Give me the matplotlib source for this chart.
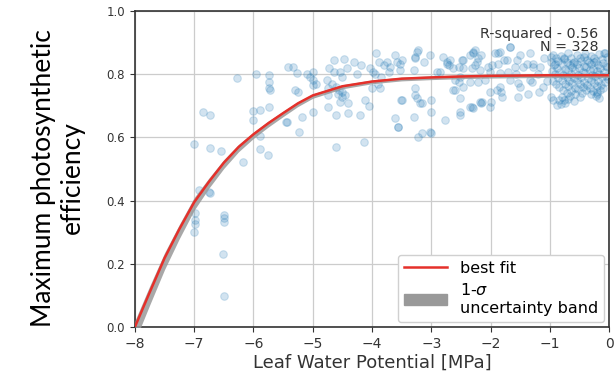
import matplotlib
matplotlib.use("Agg")
import matplotlib.pyplot as plt
from matplotlib.lines import Line2D
from matplotlib.patches import Patch

# leaf water potential [MPa] and max photosynthetic efficiency
lwp = [
    # dry end
    -7.00, -6.99, -6.99, -6.99, -7.00, -6.92, -6.75, -6.73, -6.85, -6.73,
    -6.73, -6.54, -6.50, -6.50, -6.50, -6.51, -6.50, -6.28, -6.18, -6.00,
    -6.00, -5.95, -5.89, -5.89, -5.89, -5.74, -5.73, -5.74, -5.74, -5.72,
    -5.75, -5.45, -5.42,
    # middle
    -5.33, -5.27, -5.00, -5.00, -5.00, -5.30, -5.25, -5.44, -5.19, -5.24,
    -5.00, -4.65, -4.48, -4.72, -4.54, -4.43, -4.76, -4.74, -4.74, -4.51,
    -4.57, -4.51, -4.54, -4.40, -4.74, -4.60, -4.40, -4.21, -4.60, -4.13,
    -4.19, -4.12, -4.06, -3.93, -3.89, -4.03, -3.98, -3.86, -4.00, -3.70,
    -3.72, -3.58, -3.50, -3.53, -3.52, -3.61, -3.57, -4.65, -4.68, -4.60,
    -4.55, -4.50, -4.45, -5.05, -5.10, -4.95, -3.80, -3.95, -3.85, -3.75,
    -3.90, -4.30, -4.25,
    # -3.6 .. -2
    -3.61, -3.53, -3.27, -3.22, -3.13, -3.02, -2.80, -2.74, -2.71, -2.63,
    -2.49, -2.35, -2.26, -2.21, -2.46, -2.32, -2.18, -2.01, -1.92, -1.98,
    -2.91, -2.85, -2.54, -2.51, -3.27, -3.27, -3.50, -3.16, -3.00, -3.00,
    -3.56, -3.30, -2.60, -2.51, -2.51, -2.77, -2.35, -2.18, -2.01, -2.01,
    -3.16, -3.02, -3.22, -3.25, -3.27, -3.30, -3.25, -3.19, -3.00, -2.74,
    -2.68, -2.54, -2.46, -2.29, -2.23, -2.60, -2.63, -2.46, -2.35, -2.09,
    -2.51, -2.32, -2.15,
    # -2 .. -1
    -1.87, -1.67, -1.78, -1.56, -1.45, -1.28, -1.16, -1.84, -1.81, -1.67,
    -1.50, -1.31, -1.19, -2.30, -2.16, -1.85, -1.68, -1.51, -1.34, -2.27,
    -2.04, -1.87, -1.73, -1.59, -1.39, -1.28, -1.85, -1.70, -1.58, -2.21,
    -1.54, -1.34, -1.82, -1.90, -1.54, -2.16, -1.99, -2.30, -1.37, -1.10,
    -1.20, -1.05, -1.12,
    # wet end, dense cluster
    -0.99, -0.91, -0.77, -0.60, -0.43, -0.26, -0.07, -0.94, -0.88, -0.77,
    -0.99, -0.18, -0.21,
    -0.95, -0.82, -0.70, -0.55, -0.41, -0.30, -0.17, -0.08,
    -0.90, -0.76, -0.64, -0.50, -0.37, -0.25, -0.12, -0.03,
    -0.98, -0.86, -0.72, -0.61, -0.47, -0.34, -0.22, -0.10,
    -0.93, -0.80, -0.66, -0.54, -0.43, -0.31, -0.19, -0.06,
    -0.88, -0.74, -0.62, -0.51, -0.39, -0.27, -0.15, -0.04,
    -0.96, -0.83, -0.69, -0.57, -0.45, -0.33, -0.21, -0.09,
    -0.91, -0.78, -0.65, -0.53, -0.41, -0.29, -0.17, -0.05,
    -0.86, -0.72, -0.60, -0.48, -0.36, -0.24, -0.12, -0.02,
    -0.94, -0.80, -0.67, -0.55, -0.43, -0.31, -0.19, -0.07,
    -0.89, -0.75, -0.62, -0.50, -0.38, -0.26, -0.14,
    -0.84, -0.70, -0.57, -0.45, -0.33, -0.21, -0.10,
    -0.78, -0.64, -0.52, -0.40, -0.28, -0.16,
    -0.72, -0.58, -0.46, -0.30, -0.20,
    -0.80, -0.66, -0.50, -0.22,
    -0.85, -0.70, -0.60,
    -0.82, -0.74,
]
fv_fm = [
    0.578, 0.360, 0.339, 0.325, 0.300, 0.434, 0.428, 0.423, 0.681, 0.671,
    0.566, 0.557, 0.354, 0.345, 0.333, 0.230, 0.098, 0.787, 0.521, 0.684,
    0.655, 0.800, 0.687, 0.604, 0.562, 0.697, 0.797, 0.776, 0.755, 0.750,
    0.544, 0.650, 0.824,
    0.824, 0.803, 0.808, 0.782, 0.766, 0.750, 0.745, 0.650, 0.665, 0.618,
    0.681, 0.845, 0.847, 0.819, 0.808, 0.819, 0.782, 0.755, 0.734, 0.792,
    0.739, 0.729, 0.713, 0.708, 0.697, 0.671, 0.676, 0.671, 0.571, 0.586,
    0.829, 0.718, 0.699, 0.866, 0.840, 0.819, 0.808, 0.755, 0.755, 0.824,
    0.808, 0.840, 0.845, 0.813, 0.718, 0.660, 0.632, 0.808, 0.770, 0.760,
    0.750, 0.745, 0.735, 0.790, 0.800, 0.770, 0.830, 0.800, 0.790, 0.840,
    0.770, 0.840, 0.800,
    0.861, 0.834, 0.855, 0.877, 0.840, 0.861, 0.855, 0.840, 0.829, 0.819,
    0.845, 0.861, 0.877, 0.850, 0.819, 0.819, 0.813, 0.808, 0.866, 0.829,
    0.808, 0.808, 0.776, 0.792, 0.755, 0.734, 0.718, 0.708, 0.718, 0.681,
    0.634, 0.665, 0.750, 0.724, 0.681, 0.655, 0.697, 0.713, 0.745, 0.697,
    0.613, 0.618, 0.602, 0.871, 0.850, 0.813, 0.724, 0.708, 0.613, 0.834,
    0.845, 0.824, 0.845, 0.871, 0.840, 0.782, 0.750, 0.760, 0.776, 0.782,
    0.671, 0.697, 0.713,
    0.866, 0.887, 0.845, 0.845, 0.824, 0.834, 0.824, 0.760, 0.729, 0.782,
    0.760, 0.776, 0.745, 0.866, 0.861, 0.871, 0.887, 0.861, 0.866, 0.829,
    0.824, 0.834, 0.845, 0.824, 0.834, 0.824, 0.803, 0.808, 0.800, 0.776,
    0.771, 0.782, 0.745, 0.750, 0.729, 0.708, 0.713, 0.692, 0.739, 0.850,
    0.800, 0.780, 0.760,
    0.855, 0.834, 0.850, 0.840, 0.855, 0.840, 0.866, 0.718, 0.703, 0.718,
    0.729, 0.724, 0.745,
    0.862, 0.858, 0.866, 0.860, 0.864, 0.857, 0.863, 0.868,
    0.851, 0.848, 0.853, 0.850, 0.846, 0.852, 0.849, 0.855,
    0.838, 0.842, 0.840, 0.836, 0.843, 0.839, 0.841, 0.837,
    0.829, 0.832, 0.828, 0.831, 0.827, 0.833, 0.830, 0.826,
    0.821, 0.818, 0.822, 0.819, 0.823, 0.817, 0.820, 0.824,
    0.811, 0.808, 0.812, 0.809, 0.807, 0.813, 0.810, 0.806,
    0.801, 0.798, 0.802, 0.799, 0.803, 0.797, 0.800, 0.796,
    0.789, 0.792, 0.788, 0.791, 0.787, 0.793, 0.790, 0.786,
    0.779, 0.782, 0.778, 0.781, 0.777, 0.783, 0.780, 0.776,
    0.770, 0.768, 0.772, 0.769, 0.767, 0.771, 0.766,
    0.759, 0.762, 0.758, 0.761, 0.757, 0.763, 0.756,
    0.750, 0.748, 0.752, 0.749, 0.747, 0.751,
    0.741, 0.738, 0.742, 0.739, 0.737,
    0.729, 0.731, 0.728, 0.732,
    0.718, 0.721, 0.716,
    0.706, 0.709,
]

# best fit and 1-sigma band
fit_x = [-8.0, -7.75, -7.5, -7.25, -7.0, -6.75, -6.5, -6.25, -6.0, -5.75,
         -5.5, -5.25, -5.0, -4.5, -4.0, -3.5, -3.0, -2.5, -2.0, -1.0, 0.0]
fit_y = [0.0, 0.11, 0.218, 0.31, 0.395, 0.46, 0.52, 0.57, 0.61, 0.645,
         0.677, 0.708, 0.733, 0.762, 0.777, 0.786, 0.790, 0.793, 0.795, 0.797, 0.797]
band_lo = [-0.045, 0.07, 0.182, 0.28, 0.37, 0.44, 0.502, 0.555, 0.597, 0.633,
           0.666, 0.698, 0.724, 0.754, 0.770, 0.779, 0.783, 0.786, 0.788, 0.790, 0.790]
band_hi = [0.02, 0.13, 0.235, 0.325, 0.41, 0.472, 0.53, 0.578, 0.617, 0.652,
           0.683, 0.713, 0.738, 0.767, 0.782, 0.791, 0.795, 0.798, 0.800, 0.802, 0.802]

fig = plt.figure(figsize=(6.16, 3.82), dpi=100)
ax = fig.add_axes([0.219, 0.144, 0.77, 0.827])

ax.grid(True, color="#cccccc", linewidth=0.9)
ax.set_axisbelow(True)

ax.scatter(lwp, fv_fm, s=30, color="tab:blue", alpha=0.2, linewidths=0.8, zorder=2)
ax.fill_between(fit_x, band_lo, band_hi, color="#999999", alpha=0.85, linewidth=0, zorder=3)
ax.plot(fit_x, fit_y, color="#e5302a", linewidth=1.8, zorder=4)

ax.set_xlim(-8, 0)
ax.set_ylim(0, 1.0)
ax.set_xticks(range(-8, 1))
ax.set_yticks([0.0, 0.2, 0.4, 0.6, 0.8, 1.0])
ax.tick_params(axis="x", labelsize=10)
ax.tick_params(axis="y", labelsize=8.5)
ax.tick_params(length=3.5, colors="#333333")
for s in ax.spines.values():
    s.set_color("#333333")
    s.set_linewidth(1.2)

ax.set_xlabel("Leaf Water Potential [MPa]", fontsize=13, color="#333333", labelpad=2)

ax.text(0.977, 0.95, "R-squared - 0.56\nN = 328", transform=ax.transAxes,
        ha="right", va="top", fontsize=10.3, color="#333333", linespacing=0.95)

handles = [Line2D([], [], color="#e5302a", linewidth=1.8),
           Patch(color="#999999")]
ax.legend(handles, ["best fit", "1-$\\sigma$\nuncertainty band"], loc="lower right",
          fontsize=11.5, framealpha=1.0, edgecolor="#d0d0d0", handlelength=2.7,
          borderaxespad=0.3, labelspacing=0.4)

fig.text(0.094, 0.535, "Maximum photosynthetic\nefficiency", rotation=90,
         ha="center", va="center", multialignment="center",
         fontsize=19, family="Lato", linespacing=1.2)

fig.savefig("out.png", dpi=100)
plt.close(fig)
